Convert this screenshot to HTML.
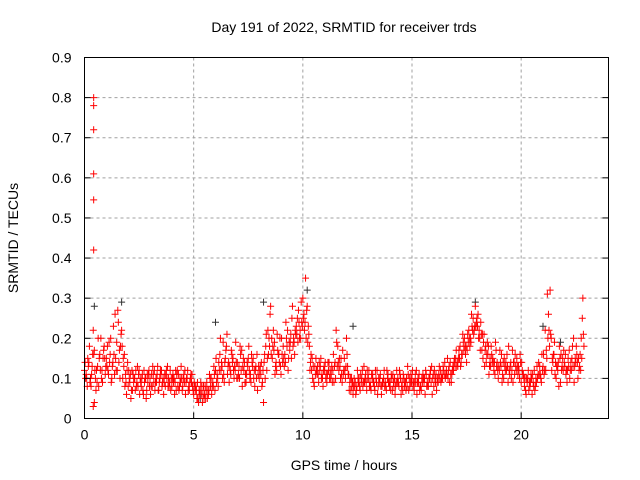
<!DOCTYPE html>
<html><head><meta charset="utf-8">
<style>
body{margin:0;background:#fff;}
svg{display:block;font-family:"Liberation Sans",sans-serif;}
</style></head><body>
<svg id="chart" width="640" height="480">
<rect x="0" y="0" width="640" height="480" fill="#fff"/>
<g id="grid"></g>
<g id="pts"></g>
<rect x="84.5" y="57.5" width="524" height="361" fill="none" stroke="#000" stroke-width="1"/>
<g id="ticks"></g>
<text x="344" y="32" font-size="14" text-anchor="middle" fill="#000">Day 191 of 2022, SRMTID for receiver trds</text>
<text x="344" y="470" font-size="14" text-anchor="middle" fill="#000">GPS time / hours</text>
<text transform="translate(18,238) rotate(-90)" font-size="14" text-anchor="middle" fill="#000">SRMTID / TECUs</text>
</svg>
<script>
const xTicks=[0,5,10,15,20];
const yTicks=[0,0.1,0.2,0.3,0.4,0.5,0.6,0.7,0.8,0.9];
const yTickLabels=["0","0.1","0.2","0.3","0.4","0.5","0.6","0.7","0.8","0.9"];
const seriesA=[.12,.10,.14,.08,.22,.10,.13,.16,.12,.18,
.15,.11,.20,.14,.26,.12,.17,.22,.13,.09,
.08,.11,.07,.10,.09,.12,.08,.06,.10,.09,
.10,.08,.12,.09,.07,.11,.10,.08,.13,.09,
.08,.10,.07,.11,.09,.08,.12,.10,.07,.09,
.06,.08,.05,.07,.04,.06,.09,.07,.10,.08,
.12,.10,.16,.13,.09,.18,.14,.11,.15,.12,
.14,.10,.17,.12,.09,.15,.11,.13,.08,.16,
.10,.14,.04,.18,.22,.26,.15,.19,.12,.16,
.11,.18,.14,.22,.17,.25,.19,.23,.27,.20,
.30,.24,.28,.18,.12,.09,.15,.11,.13,.10,
.12,.09,.14,.11,.16,.10,.18,.13,.09,.15,
.20,.11,.07,.06,.09,.12,.08,.10,.13,.09,
.10,.08,.11,.07,.12,.09,.06,.10,.08,.11,
.09,.07,.10,.12,.08,.06,.11,.09,.13,.08,
.10,.07,.12,.09,.08,.11,.06,.09,.10,.13,
.08,.11,.09,.12,.10,.14,.11,.13,.09,.12,
.15,.13,.18,.16,.20,.14,.22,.19,.25,.28,
.23,.20,.17,.21,.14,.18,.13,.15,.11,.14,
.12,.16,.10,.14,.09,.13,.17,.11,.15,.12,
.09,.11,.07,.10,.08,.06,.12,.09,.14,.10,
.13,.22,.31,.18,.12,.16,.10,.14,.09,.15,
.13,.09,.17,.12,.20,.14,.10,.16,.25];
const seriesB=[.10,.15,.09,.13,.17,.12,.08,.20,.15,.11,
.18,.14,.10,.16,.12,.24,.18,.10,.08,.12,
.10,.07,.09,.12,.08,.10,.11,.09,.07,.12,
.08,.11,.09,.13,.10,.08,.09,.12,.10,.07,
.11,.09,.12,.08,.10,.11,.09,.07,.10,.08,
.08,.05,.07,.06,.08,.05,.07,.10,.08,.11,
.09,.14,.12,.19,.15,.11,.13,.16,.10,.14,
.11,.16,.13,.09,.14,.12,.16,.10,.13,.11,
.13,.09,.16,.12,.20,.16,.22,.13,.17,.20,
.16,.13,.20,.15,.21,.18,.22,.25,.20,.24,
.26,.20,.23,.14,.10,.13,.11,.14,.10,.12,
.10,.14,.12,.09,.13,.19,.12,.15,.11,.10,
.13,.09,.08,.10,.07,.09,.11,.08,.10,.12,
.08,.11,.09,.10,.08,.11,.09,.08,.12,.09,
.11,.09,.08,.10,.11,.09,.08,.10,.07,.11,
.08,.11,.09,.07,.10,.09,.11,.08,.12,.10,
.10,.09,.13,.10,.12,.11,.10,.14,.12,.15,
.13,.17,.14,.19,.16,.21,.18,.23,.22,.24,
.20,.24,.15,.17,.19,.13,.16,.12,.17,.10,
.14,.11,.13,.16,.12,.10,.14,.13,.11,.16,
.12,.08,.10,.07,.11,.09,.08,.10,.13,.16,
.11,.17,.26,.21,.14,.11,.13,.18,.12,.17,
.11,.15,.12,.18,.13,.16,.12,.20,.21];
const seriesC=[.14,.08,.18,.11,.16,.07,.20,.12,.09,.15,
.13,.19,.09,.23,.15,.27,.10,.18,.16,.06,
.12,.05,.11,.07,.13,.06,.10,.12,.05,.11,
.06,.13,.07,.11,.09,.12,.06,.11,.08,.12,
.10,.06,.11,.07,.13,.10,.06,.12,.09,.11,
.09,.07,.04,.09,.06,.08,.05,.11,.06,.13,
.15,.08,.20,.10,.14,.21,.09,.17,.12,.19,
.10,.18,.08,.14,.11,.18,.09,.15,.12,.07,
.12,.08,.14,.21,.16,.28,.18,.11,.21,.14,
.20,.15,.24,.12,.19,.28,.16,.21,.24,.29,
.25,.35,.19,.12,.15,.08,.12,.09,.15,.08,
.14,.11,.10,.13,.09,.22,.14,.10,.17,.12,
.16,.07,.10,.08,.06,.10,.07,.12,.09,.07,
.12,.07,.09,.12,.06,.10,.08,.12,.07,.09,
.07,.11,.06,.09,.12,.08,.10,.07,.11,.09,
.12,.09,.06,.11,.07,.10,.12,.08,.11,.06,
.12,.07,.11,.09,.13,.10,.15,.09,.11,.14,
.17,.15,.13,.21,.18,.17,.20,.26,.21,.23,
.26,.17,.21,.13,.16,.11,.18,.14,.19,.12,
.17,.09,.15,.12,.18,.14,.09,.16,.13,.10,
.14,.10,.06,.12,.09,.11,.07,.13,.11,.09,
.16,.12,.20,.32,.15,.19,.13,.08,.16,.12,
.16,.12,.10,.15,.09,.18,.15,.12,.30];
const seriesD=[.11,.13,.10,.16,.12,.09,.15,.10,.17,.13,
.12,.16,.13,.11,.19,.14,.21,.15,.11,.14,
.09,.12,.10,.08,.11,.09,.07,.10,.11,.08,
.11,.09,.10,.07,.12,.09,.11,.10,.08,.10,
.09,.12,.08,.10,.07,.09,.10,.08,.11,.07,
.07,.09,.06,.08,.05,.07,.06,.08,.09,.07,
.11,.12,.14,.11,.17,.13,.12,.14,.13,.10,
.13,.12,.15,.11,.13,.10,.14,.12,.10,.13,
.11,.12,.10,.15,.18,.20,.17,.14,.16,.13,
.14,.16,.18,.19,.15,.20,.21,.19,.22,.23,
.22,.27,.21,.16,.13,.11,.13,.12,.11,.13,
.11,.12,.10,.12,.14,.13,.15,.11,.12,.13,
.11,.10,.09,.08,.08,.10,.09,.09,.11,.10,
.09,.10,.08,.09,.10,.08,.09,.09,.10,.08,
.10,.08,.09,.09,.10,.07,.09,.08,.10,.09,
.09,.09,.10,.08,.09,.10,.08,.10,.09,.11,
.09,.10,.10,.11,.11,.12,.12,.11,.13,.13,
.14,.15,.16,.17,.18,.19,.20,.22,.23,.25,
.22,.21,.19,.18,.16,.15,.14,.14,.13,.13,
.13,.14,.12,.13,.11,.12,.14,.12,.13,.14,
.11,.10,.09,.09,.10,.08,.10,.11,.11,.12,
.12,.15,.22,.20,.16,.14,.12,.15,.13,.14,
.12,.13,.14,.13,.15,.14,.13,.15,.18];
const spikeHours=[0.42,0.42,0.42,0.42,0.42,0.42,0.4,0.45];
const spikeValues=[0.80,0.78,0.72,0.61,0.545,0.42,0.03,0.04];
const grayHours=[0.45,1.7,5.3,6.0,8.2,10.2,12.3,17.9,21.0,21.8];
const grayValues=[0.28,0.29,0.05,0.24,0.29,0.32,0.23,0.29,0.23,0.19];

const X0=84.5,X1=608.5,XMAX=24,Y0=418.5,Y1=57.5,YMAX=0.9;
const xs=v=>X0+(X1-X0)*v/XMAX;
const ys=v=>Y0-(Y0-Y1)*v/YMAX;
const NS="http://www.w3.org/2000/svg";
const grid=document.getElementById('grid'),ticks=document.getElementById('ticks'),pts=document.getElementById('pts');
function mk(tag,attrs,parent){const e=document.createElementNS(NS,tag);for(const k in attrs)e.setAttribute(k,attrs[k]);parent.appendChild(e);return e;}
xTicks.forEach(t=>{
  const x=xs(t);
  if(t>0){const g=mk('line',{x1:x,x2:x,y1:Y1,y2:Y0,stroke:'#a0a0a0','stroke-dasharray':'3,3'},grid);
  
  }
  const tk=mk('line',{x1:x,x2:x,y1:Y0,y2:Y0-6,stroke:'#000'},ticks);
  
  
  const tx=mk('text',{x:x,y:Y0+21,'font-size':14,'text-anchor':'middle'},ticks);tx.textContent=t;
  
  
});
yTicks.forEach((t,i)=>{
  const y=ys(t);
  if(t>0&&t<0.9){const g=mk('line',{x1:X0,x2:X1,y1:y,y2:y,stroke:'#a0a0a0','stroke-dasharray':'3,3'},grid);
  
  }
  const tk=mk('line',{x1:X0,x2:X0+6,y1:y,y2:y,stroke:'#000'},ticks);
  
  
  const tk2=mk('line',{x1:X1,x2:X1-6,y1:y,y2:y,stroke:'#000'},ticks);
  
  
  const tx=mk('text',{x:X0-13,y:y+5,'font-size':14,'text-anchor':'end'},ticks);tx.textContent=yTickLabels[i];
  
  
});
function plus(h,v,color){
  const x=xs(h),y=ys(v);
  const p=mk('path',{d:`M${x-3.5},${y}H${x+3.5}M${x},${y-3.5}V${y+3.5}`,stroke:color,'stroke-width':1,fill:'none'},pts);
  
  
}
grayHours.forEach((h,i)=>plus(h,grayValues[i],'#333'));
seriesA.forEach((v,i)=>plus(i*0.1,v,'#f00'));
seriesB.forEach((v,i)=>plus(i*0.1+0.05,v,'#f00'));
seriesC.forEach((v,i)=>plus(i*0.1+0.025,v,'#f00'));
seriesD.forEach((v,i)=>plus(i*0.1+0.075,v,'#f00'));
spikeHours.forEach((h,i)=>plus(h,spikeValues[i],'#f00'));
</script>
</body></html>
